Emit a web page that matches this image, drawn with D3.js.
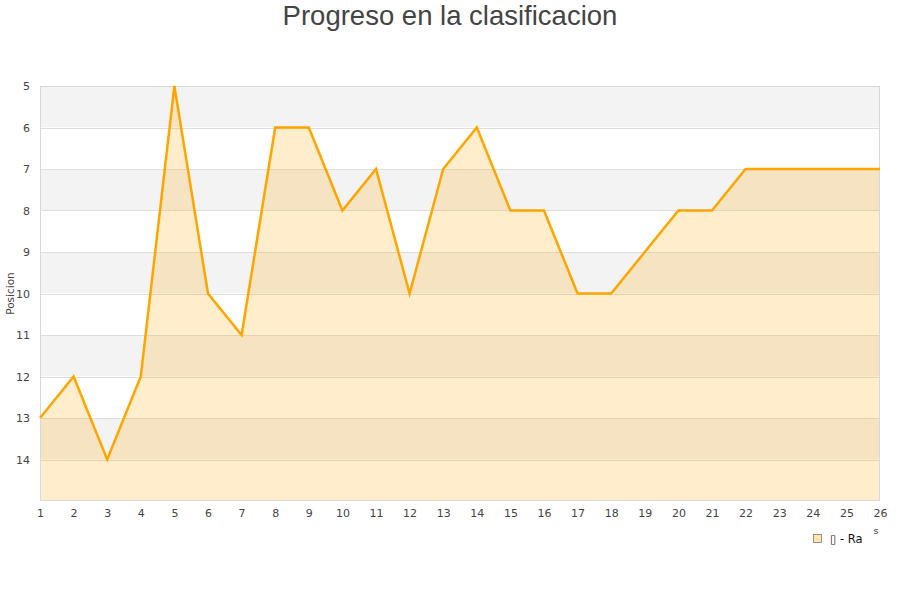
<!DOCTYPE html>
<html>
<head>
<meta charset="utf-8">
<script src="https://cdn.jsdelivr.net/npm/d3@7"></script>
<style>
  body { margin: 0; background: #fff; }
  svg { display: block; }
</style>
</head>
<body>
<div id="chart"></div>
<script>
const jornadas = [1, 2, 3, 4, 5, 6, 7, 8, 9, 10, 11, 12, 13, 14, 15, 16, 17, 18, 19, 20, 21, 22, 23, 24, 25, 26]
const posiciones = [13, 12, 14, 12, 5, 10, 11, 6, 6, 8, 7, 10, 7, 6, 8, 8, 10, 10, 9, 8, 8, 7, 7, 7, 7, 7]
const yTicks = [5, 6, 7, 8, 9, 10, 11, 12, 13, 14]
const yDomain = [5, 15]

const width = 900
const height = 600
const margin = { top: 86, right: 20, bottom: 99, left: 40 }
const lineColor = '#ffa500'

const data = jornadas.map((j, i) => ({ j, pos: posiciones[i] }))

const svg = d3.select('#chart')
  .append('svg')
  .attr('width', width)
  .attr('height', height)

const x = d3.scaleLinear()
  .domain(d3.extent(jornadas))
  .range([margin.left, width - margin.right])

// posicion 5 arriba, 15 abajo
const y = d3.scaleLinear()
  .domain(yDomain)
  .range([margin.top, height - margin.bottom])

// bandas alternas
svg.append('g')
  .selectAll('rect')
  .data(d3.range(yDomain[0], yDomain[1]))
  .join('rect')
  .attr('x', margin.left)
  .attr('width', width - margin.right - margin.left)
  .attr('y', d => y(d))
  .attr('height', d => y(d + 1) - y(d))
  .attr('fill', (d, i) => i % 2 === 0 ? '#f3f3f3' : '#ffffff')

// lineas de rejilla
svg.append('g')
  .attr('stroke', '#dedede')
  .selectAll('line')
  .data(yTicks)
  .join('line')
  .attr('x1', margin.left)
  .attr('x2', width - margin.right)
  .attr('y1', d => Math.round(y(d)) + 0.5)
  .attr('y2', d => Math.round(y(d)) + 0.5)

// area
const area = d3.area()
  .x(d => x(d.j))
  .y0(y(yDomain[1]))
  .y1(d => y(d.pos))

svg.append('path')
  .datum(data)
  .attr('d', area)
  .attr('fill', lineColor)
  .attr('fill-opacity', 0.2)

// borde del area de dibujo
svg.append('rect')
  .attr('x', margin.left + 0.5)
  .attr('y', margin.top + 0.5)
  .attr('width', width - margin.right - margin.left - 1)
  .attr('height', height - margin.bottom - margin.top - 1)
  .attr('fill', 'none')
  .attr('stroke', '#d8d8d8')

const line = d3.line()
  .x(d => x(d.j))
  .y(d => y(d.pos))

svg.append('path')
  .datum(data)
  .attr('d', line)
  .attr('fill', 'none')
  .attr('stroke', lineColor)
  .attr('stroke-width', 2.5)
  .attr('stroke-linejoin', 'miter')

// eje x
const xAxis = svg.append('g')
  .attr('transform', `translate(0,${height - margin.bottom + 4})`)
  .call(d3.axisBottom(x).tickValues(jornadas).tickFormat(d3.format('d')).tickSize(0).tickPadding(4))
xAxis.select('.domain').remove()
xAxis.selectAll('text')
  .attr('fill', '#444')
  .style('font-family', 'DejaVu Sans, sans-serif')
  .style('font-size', '11px')

// eje y
const yAxis = svg.append('g')
  .attr('transform', `translate(${margin.left - 8},0)`)
  .call(d3.axisLeft(y).tickValues(yTicks).tickSize(0).tickPadding(2))
yAxis.select('.domain').remove()
yAxis.selectAll('text')
  .attr('fill', '#444')
  .style('font-family', 'DejaVu Sans, sans-serif')
  .style('font-size', '11px')

svg.append('text')
  .attr('transform', `translate(14,${(margin.top + height - margin.bottom) / 2}) rotate(-90)`)
  .attr('text-anchor', 'middle')
  .attr('fill', '#444')
  .style('font-family', 'DejaVu Sans, sans-serif')
  .style('font-size', '10.5px')
  .text('Posicion')

// titulo
svg.append('text')
  .attr('x', width / 2)
  .attr('y', 25)
  .attr('text-anchor', 'middle')
  .attr('fill', '#444')
  .style('font-family', 'Liberation Sans, Arial, sans-serif')
  .style('font-size', '27.5px')
  .text('Progreso en la clasificacion')

// resto del titulo del eje x
svg.append('text')
  .attr('x', 876)
  .attr('y', 534)
  .attr('text-anchor', 'middle')
  .attr('fill', '#444')
  .style('font-family', 'DejaVu Sans, sans-serif')
  .style('font-size', '9.5px')
  .text('s')

// leyenda
const legend = svg.append('g').attr('transform', 'translate(813,534)')
legend.append('rect')
  .attr('x', 0.5)
  .attr('y', 0.5)
  .attr('width', 8)
  .attr('height', 8)
  .attr('fill', '#fde3b8')
  .attr('stroke', '#8a7a5a')
  .attr('stroke-width', 0.8)
legend.append('text')
  .attr('x', 17)
  .attr('y', 9)
  .attr('fill', '#111')
  .style('font-family', 'DejaVu Sans, sans-serif')
  .style('font-size', '11.5px')
  .text('\u25AF - Ra')
</script>
</body>
</html>
